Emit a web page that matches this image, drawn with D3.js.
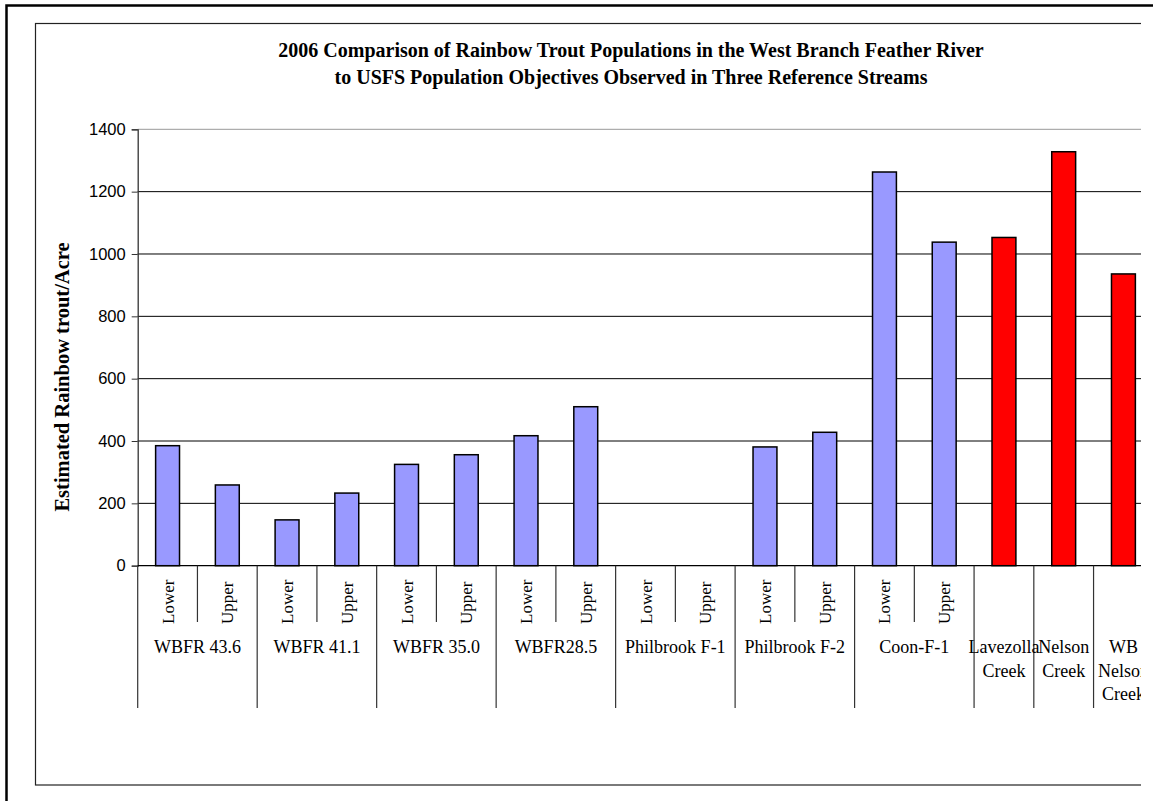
<!DOCTYPE html>
<html>
<head>
<meta charset="utf-8">
<script src="https://d3js.org/d3.v7.min.js"></script>
<style>
  body { margin: 0; background: #fff; }
  svg { display: block; }
</style>
</head>
<body>
<div id="chart"></div>
<script>
// values (trout per acre)
var siteGroups = ["WBFR 43.6", "WBFR 41.1", "WBFR 35.0", "WBFR28.5", "Philbrook F-1", "Philbrook F-2", "Coon-F-1"];
var reachLabels = ["Lower", "Upper"];
var lowerValues = [385, 147, 325, 417, null, 381, 1263];
var upperValues = [259, 233, 356, 510, null, 428, 1038];
var refStreams = ["Lavezolla Creek", "Nelson Creek", "WB Nelson Creek"];
var refValues = [1053, 1328, 936];
var yTicks = [0, 200, 400, 600, 800, 1000, 1200, 1400];

var titleLines = ["2006 Comparison of Rainbow Trout Populations in the West Branch Feather River",
                  "to USFS Population Objectives Observed in Three Reference Streams"];
var yTitle = "Estimated Rainbow trout/Acre";

// one slot per bar
var slots = [];
siteGroups.forEach(function(g, i) {
  slots.push({id: g + "|" + reachLabels[0], group: g, reach: reachLabels[0], value: lowerValues[i], ref: false});
  slots.push({id: g + "|" + reachLabels[1], group: g, reach: reachLabels[1], value: upperValues[i], ref: false});
});
refStreams.forEach(function(s, i) {
  slots.push({id: s, group: s, reach: null, value: refValues[i], ref: true});
});

var width = 1153,
    height = 801,
    plotLeft = 137.7,
    plotRight = 1153.3,
    plotTop = 129.3,
    plotBottom = 565.7,
    clipRight = 1141;

var serif = "'Liberation Serif', 'Times New Roman', serif",
    sans = "'Liberation Sans', Arial, sans-serif";

var svg = d3.select("#chart").append("svg")
    .attr("width", width)
    .attr("height", height);

svg.append("defs").append("clipPath").attr("id", "cut")
  .append("rect").attr("x", 0).attr("y", 0).attr("width", clipRight).attr("height", height);

// outer frame
svg.append("rect")
    .attr("x", 6.5).attr("y", 5.5)
    .attr("width", 1200).attr("height", 900)
    .attr("fill", "none").attr("stroke", "#000").attr("stroke-width", 2.5);

var g = svg.append("g").attr("clip-path", "url(#cut)");

// chart area box
g.append("rect")
    .attr("x", 35.5).attr("y", 23.5)
    .attr("width", 1150).attr("height", 761.5)
    .attr("fill", "#fff").attr("stroke", "#222").attr("stroke-width", 1.2);

var x = d3.scaleBand()
    .domain(slots.map(function(d) { return d.id; }))
    .range([plotLeft, plotRight])
    .paddingInner(0.6)
    .paddingOuter(0.3);

var slotX = d3.scaleBand()
    .domain(slots.map(function(d) { return d.id; }))
    .range([plotLeft, plotRight]);

var y = d3.scaleLinear()
    .domain([0, 1400])
    .range([plotBottom, plotTop]);

// gridlines
g.append("g").selectAll("line")
  .data(yTicks.slice(1))
  .enter().append("line")
    .attr("x1", plotLeft).attr("x2", plotRight)
    .attr("y1", function(d) { return y(d); })
    .attr("y2", function(d) { return y(d); })
    .attr("stroke", function(d) { return d === 1400 ? "#999" : "#000"; })
    .attr("stroke-width", 1);

// y axis
var yAxis = g.append("g")
    .attr("transform", "translate(" + plotLeft + ",0)")
    .call(d3.axisLeft(y).tickValues(yTicks).tickSize(6).tickPadding(6).tickFormat(d3.format("d")));
yAxis.select(".domain").attr("stroke", "#333").attr("stroke-width", 1.3);
yAxis.selectAll(".tick line").attr("stroke", "#333");
yAxis.selectAll("text")
    .attr("font-family", sans)
    .attr("font-size", "16.5px")
    .attr("fill", "#000");

// bars
g.append("g").selectAll("rect")
  .data(slots.filter(function(d) { return d.value != null; }))
  .enter().append("rect")
    .attr("x", function(d) { return x(d.id); })
    .attr("y", function(d) { return y(d.value); })
    .attr("width", x.bandwidth())
    .attr("height", function(d) { return plotBottom - y(d.value); })
    .attr("fill", function(d) { return d.ref ? "#ff0000" : "#9999ff"; })
    .attr("stroke", "#000")
    .attr("stroke-width", 1.5);

// x axis line
g.append("line")
    .attr("x1", plotLeft).attr("x2", plotRight)
    .attr("y1", plotBottom).attr("y2", plotBottom)
    .attr("stroke", "#000").attr("stroke-width", 1.3);

// dividers under the axis: short between reaches, long between sites
var dividers = [];
slots.forEach(function(d, i) {
  var longOne = i === 0 || d.ref || d.reach === reachLabels[0];
  dividers.push({x: slotX(d.id), long: longOne});
});
dividers.push({x: plotRight, long: true});

g.append("g").selectAll("line")
  .data(dividers)
  .enter().append("line")
    .attr("x1", function(d) { return d.x; })
    .attr("x2", function(d) { return d.x; })
    .attr("y1", plotBottom)
    .attr("y2", function(d) { return d.long ? 708 : 622; })
    .attr("stroke", "#333")
    .attr("stroke-width", 1.2);

// reach labels (rotated)
g.append("g").selectAll("text")
  .data(slots.filter(function(d) { return d.reach; }))
  .enter().append("text")
    .attr("transform", function(d) {
      return "translate(" + (slotX(d.id) + slotX.bandwidth() / 2 + 6) + ",624) rotate(-90)";
    })
    .attr("font-family", serif)
    .attr("font-size", "17px")
    .text(function(d) { return d.reach; });

// site labels
g.append("g").selectAll("text")
  .data(siteGroups)
  .enter().append("text")
    .attr("x", function(d) { return slotX(d + "|" + reachLabels[0]) + slotX.bandwidth(); })
    .attr("y", 653)
    .attr("text-anchor", "middle")
    .attr("font-family", serif)
    .attr("font-size", "18px")
    .text(function(d) { return d; });

// reference stream labels, one word per line
var refLabel = g.append("g").selectAll("text")
  .data(slots.filter(function(d) { return d.ref; }))
  .enter().append("text")
    .attr("text-anchor", "middle")
    .attr("font-family", serif)
    .attr("font-size", "18px");
refLabel.selectAll("tspan")
  .data(function(d) {
    return d.group.split(" ").map(function(w) { return {w: w, cx: slotX(d.id) + slotX.bandwidth() / 2}; });
  })
  .enter().append("tspan")
    .attr("x", function(t) { return t.cx; })
    .attr("y", function(t, i) { return 653 + i * 23.5; })
    .text(function(t) { return t.w; });

// title
g.append("g").selectAll("text")
  .data(titleLines)
  .enter().append("text")
    .attr("x", 631)
    .attr("y", function(d, i) { return 57 + i * 27; })
    .attr("text-anchor", "middle")
    .attr("font-family", serif)
    .attr("font-weight", "bold")
    .attr("font-size", "20px")
    .text(function(d) { return d; });

// y axis title
g.append("text")
    .attr("transform", "translate(69,377) rotate(-90)")
    .attr("text-anchor", "middle")
    .attr("font-family", serif)
    .attr("font-weight", "bold")
    .attr("font-size", "20.5px")
    .text(yTitle);
</script>
</body>
</html>
